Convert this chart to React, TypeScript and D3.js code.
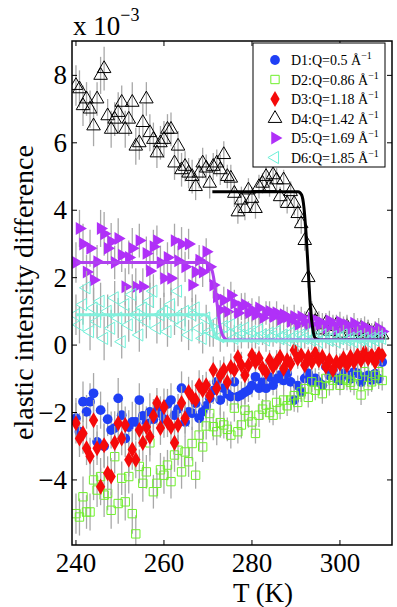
import React from 'react'
import * as d3 from 'd3'

// temperature points (K) shared by all six detectors
const TEMPS = [
  240, 240.8, 241.6, 242.4, 243.2, 244, 244.8, 245.6, 246.4, 247.2, 248, 248.8, 249.6, 250.4, 251.2, 252, 252.8,
  253.6, 254.4, 255.2, 256, 256.8, 257.6, 258.4, 259.2, 260, 260.8, 261.6, 262.4, 263.2, 264, 264.8, 265.6, 266.4,
  267.2, 268, 268.8, 269.6, 270.4, 271.2, 272, 272.8, 273.6, 274.4, 275.2, 276, 276.8, 277.6, 278.4, 279.2, 280,
  280.8, 281.6, 282.4, 283.2, 284, 284.8, 285.6, 286.4, 287.2, 288, 288.8, 289.6, 290.4, 291.2, 292, 292.8, 293.6,
  294.4, 295.2, 296, 296.8, 297.6, 298.4, 299.2, 300, 300.8, 301.6, 302.4, 303.2, 304, 304.8, 305.6, 306.4, 307.2,
  308, 308.8, 309.6,
]

// error bar half-length, x 1e-3
const ERR = [
  0.6, 0.55, 0.6, 0.5, 0.55, 0.6, 0.5, 0.55, 0.65, 0.5, 0.55, 0.5, 0.6, 0.5, 0.55, 0.5, 0.6, 0.55, 0.5, 0.55,
  0.5, 0.55, 0.5, 0.45, 0.5, 0.55, 0.45, 0.5, 0.5, 0.45, 0.5, 0.45, 0.45, 0.5, 0.4, 0.45, 0.45, 0.4, 0.45, 0.4,
  0.4, 0.45, 0.4, 0.35, 0.4, 0.4, 0.35, 0.4, 0.35, 0.35, 0.35, 0.3, 0.35, 0.3, 0.35, 0.3, 0.3, 0.35, 0.3, 0.3,
  0.3, 0.3, 0.35, 0.3, 0.3, 0.3, 0.3, 0.3, 0.3, 0.3, 0.3, 0.3, 0.3, 0.3, 0.3, 0.3, 0.3, 0.3, 0.3, 0.3,
  0.3, 0.3, 0.3, 0.3, 0.3, 0.3, 0.3, 0.3,
]

const D1 = [
  -2.17, -2.57, -1.68, -1.98, -1.68, -1.43, -2.87, -1.93, -3.0, -2.2, -2.52, -2.46, -1.58, -2.08, -2.77, -2.43,
  -2.28, -2.28, -1.63, -2.1, -2.32, -1.98, -2.2, -1.93, -2.02, -2.2, -1.75, -1.63, -2.08, -1.9, -1.28, -2.28,
  -1.98, -2.02, -1.73, -2.17, -1.98, -1.8, -1.58, -1.35, -1.09, -1.63, -1.28, -1.45, -1.53, -1.09, -1.53, -1.48,
  -1.4, -1.34, -1.2, -0.94, -1.28, -1.1, -1.28, -0.95, -1.19, -1.0, -0.89, -1.05, -0.84, -1.09, -1.63, -1.2,
  -1.39, -0.99, -0.84, -1.09, -0.99, -1.1, -1.19, -0.64, -0.9, -0.74, -0.99, -1.05, -0.85, -0.89, -1.0, -0.8,
  -0.84, -1.1, -0.94, -0.9, -1.04, -0.85, -1.0, -0.5,
]

const D2 = [
  -5.0, -5.1, -4.5, -4.95, -4.95, -4.0, -4.3, -3.9, -4.45, -4.4, -4.9, -3.31, -4.7, -3.95, -4.65, -3.9, -5.0,
  -5.6, -3.6, -4.1, -3.76, -2.9, -4.35, -4.1, -3.7, -3.86, -3.56, -4.05, -3.26, -3.12, -3.76, -3.17, -3.46, -2.92,
  -3.86, -2.67, -3.02, -2.4, -2.03, -2.42, -2.57, -2.3, -2.37, -2.5, -2.67, -1.87, -2.57, -2.37, -1.93, -2.1,
  -2.28, -2.62, -2.08, -1.9, -1.78, -2.0, -2.08, -1.7, -1.9, -1.63, -1.8, -1.63, -1.5, -1.7, -1.39, -1.29, -1.55,
  -1.09, -1.34, -1.2, -1.44, -0.99, -1.2, -1.04, -0.79, -1.19, -1.0, -1.04, -1.1, -1.19, -0.9, -1.48, -0.79, -1.2,
  -1.09, -0.9, -0.79, -1.05,
]

const D3 = [
  -2.32, -2.77, -2.62, -3.06, -3.3, -2.23, -3.06, -4.2, -2.97, -3.8, -3.9, -2.9, -2.32, -2.77, -2.37, -3.4, -3.1,
  -3.4, -2.52, -2.9, -2.43, -2.72, -2.1, -1.72, -2.46, -1.84, -2.28, -2.43, -2.9, -2.37, -1.72, -2.17, -1.39,
  -1.54, -1.63, -1.2, -1.34, -1.19, -1.5, -0.74, -1.28, -0.9, -0.74, -1.1, -0.65, -0.74, -0.36, -0.6, -0.89, -0.6,
  -0.3, -0.5, -0.39, -0.68, -0.8, -0.45, -0.64, -0.5, -0.35, -0.7, -0.45, -0.55, -0.15, -0.4, -0.3, -0.6, -0.35,
  -0.5, -0.24, -0.45, -0.35, -0.64, -0.45, -0.74, -0.5, -0.55, -0.39, -0.6, -0.35, -0.5, -0.3, -0.45, -0.2, -0.4,
  -0.3, -0.5, -0.25, -0.3,
]

const D4 = [
  7.7, 7.6, 7.1, 7.3, 7.0, 6.5, 7.3, 8.0, 8.2, 6.8, 6.4, 6.7, 6.9, 7.2, 6.4, 6.7, 7.2, 5.9, 6.0, 6.6, 7.3, 6.3,
  6.1, 5.7, 6.0, 6.1, 6.4, 6.4, 5.4, 5.9, 5.2, 5.3, 5.1, 5.0, 4.7, 5.1, 5.4, 5.25, 4.8, 5.3, 5.4, 5.2, 5.65, 5.0,
  4.95, 4.5, 3.95, 4.3, 4.05, 4.6, 4.35, 4.05, 4.7, 4.8, 5.0, 4.7, 5.05, 4.9, 4.4, 4.9, 4.2, 4.55, 4.2, 3.9, 3.6,
  3.1, 2.0, 1.0, 0.7, 0.6, 0.45, 0.65, 0.4, 0.55, 0.6, 0.35, 0.5, 0.55, 0.3, 0.45, 0.4, 0.5, 0.35, 0.45, 0.3, 0.4,
  0.35, 0.3,
]

const D5 = [
  2.45, 3.46, 3.0, 2.17, 2.87, 1.93, 2.47, 3.46, 3.3, 2.87, 3.07, 2.45, 3.16, 2.67, 1.73, 2.6, 2.87, 1.73, 3.1,
  1.73, 2.72, 2.2, 2.92, 3.1, 2.45, 1.98, 2.6, 1.98, 3.1, 2.5, 3.0, 2.32, 3.0, 1.78, 2.17, 2.52, 2.17, 2.77, 2.32,
  1.78, 1.43, 1.04, 1.33, 0.99, 1.48, 1.24, 0.95, 1.14, 1.2, 0.95, 1.04, 0.9, 1.1, 0.8, 0.95, 1.0, 0.84, 0.95,
  0.75, 0.9, 0.84, 0.7, 0.85, 0.6, 0.84, 0.7, 0.6, 0.8, 0.55, 0.7, 0.65, 0.5, 0.72, 0.6, 0.45, 0.69, 0.55, 0.6,
  0.4, 0.65, 0.5, 0.45, 0.55, 0.45, 0.35, 0.4, 0.5, 0.4,
]

const D6 = [
  0.9, 0.6, 1.2, 1.7, 0.4, 1.1, 0.7, 1.3, 0.2, 1.0, 0.5, 1.4, 0.8, 0.1, 1.2, 0.6, 1.5, 0.9, 0.3, 1.1, 0.7, 1.3,
  1.6, 0.5, 0.9, 1.0, 0.4, 1.2, 0.8, 1.6, 0.6, 1.0, 0.3, 0.9, 1.1, 0.5, 0.2, 0.8, 0.4, 0.35, 0.7, 0.25, 0.55, 0.3,
  0.6, 0.2, 0.45, 0.3, 0.5, 0.25, 0.4, 0.2, 0.45, 0.3, 0.15, 0.35, 0.25, 0.4, 0.2, 0.3, 0.15, 0.35, 0.25, 0.1, 0.3,
  0.2, 0.35, 0.15, 0.25, 0.1, 0.3, 0.2, 0.15, 0.25, 0.1, 0.2, 0.3, 0.15, 0.2, 0.1, 0.25, 0.15, 0.2, 0.1, 0.2, 0.15,
  0.25, 0.2,
]

// step fits [T, value]
const FIT_D4 = [
  [271, 4.55], [290.5, 4.55], [291.3, 4.45], [291.8, 4.1], [292.3, 3.3], [292.8, 2.2], [293.3, 1.1], [293.8, 0.5],
  [294.4, 0.2], [295.5, 0.15], [310, 0.15],
]
const FIT_D5 = [
  [240, 2.45], [269.5, 2.45], [270.5, 2.35], [271.3, 2.0], [272, 1.3], [272.7, 0.6], [273.5, 0.25], [274.5, 0.15],
  [310, 0.15],
]
const FIT_D6 = [
  [240, 0.9], [269, 0.9], [270, 0.85], [270.8, 0.6], [271.5, 0.35], [272.3, 0.2], [273.5, 0.13], [310, 0.12],
]

const X_TICKS = [240, 260, 280, 300]
const Y_TICKS = [-4, -2, 0, 2, 4, 6, 8]

const LEGEND = [
  { name: 'D1:Q=0.5 Å' },
  { name: 'D2:Q=0.86 Å' },
  { name: 'D3:Q=1.18 Å' },
  { name: 'D4:Q=1.42 Å' },
  { name: 'D5:Q=1.69 Å' },
  { name: 'D6:Q=1.85 Å' },
]

const FONT = '"Liberation Serif", "Times New Roman", serif'

const SERIES = [
  { values: D1, type: d3.symbolCircle, size: 75, rot: 0, fill: '#1f3ff5', stroke: 'none' },
  { values: D2, type: d3.symbolSquare, size: 70, rot: 0, fill: 'none', stroke: '#6ef02a' },
  { values: D3, type: d3.symbolDiamond, size: 75, rot: 0, fill: '#f50a0a', stroke: 'none' },
  { values: D4, type: d3.symbolTriangle, size: 80, rot: 0, fill: 'none', stroke: '#000' },
  { values: D5, type: d3.symbolTriangle, size: 72, rot: 90, fill: '#b030f8', stroke: 'none' },
  { values: D6, type: d3.symbolTriangle, size: 65, rot: -90, fill: 'none', stroke: '#6ff0d8' },
]

export default function App() {
  const width = 397
  const height = 607
  const left = 72
  const right = 392
  const top = 41
  const bottom = 545

  const x = d3.scaleLinear().domain([239.1, 311.83]).range([left, right])
  const y = d3.scaleLinear().domain([-5.93, 9.02]).range([bottom, top])

  const line = d3
    .line<number[]>()
    .x(d => x(d[0]))
    .y(d => y(d[1]))
    .curve(d3.curveMonotoneX)

  const fmt = (v: number) => (v < 0 ? '\u2212' + Math.abs(v) : String(v))

  return (
    <svg
      width={width}
      height={height}
      style={{ position: 'absolute', left: 0, top: 0, background: '#fff' }}
    >
      <rect x={0} y={0} width={width} height={height} fill="#fff" />
      <defs>
        <clipPath id="plot">
          <rect x={left} y={top} width={right - left} height={bottom - top} />
        </clipPath>
      </defs>

      <g clipPath="url(#plot)">
        {SERIES.map((s, si) => (
          <g key={si}>
            {s.values.map((v, i) => (
              <line
                key={i}
                x1={x(TEMPS[i])}
                x2={x(TEMPS[i])}
                y1={y(v - ERR[i])}
                y2={y(v + ERR[i])}
                stroke="#a8a8a8"
                strokeWidth={1.3}
              />
            ))}
            {s.values.map((v, i) => (
              <path
                key={'m' + i}
                d={d3.symbol().type(s.type).size(s.size)() || ''}
                transform={`translate(${x(TEMPS[i])},${y(v)}) rotate(${s.rot})`}
                fill={s.fill}
                stroke={s.stroke}
                strokeWidth={1}
              />
            ))}
          </g>
        ))}
        <path d={line(FIT_D4) || ''} fill="none" stroke="#000" strokeWidth={3} />
        <path d={line(FIT_D5) || ''} fill="none" stroke="#b040f0" strokeWidth={3} />
        <path d={line(FIT_D6) || ''} fill="none" stroke="#80f0dc" strokeWidth={3} />
      </g>

      {/* frame and inward ticks */}
      <rect x={left} y={top} width={right - left} height={bottom - top} fill="none" stroke="#000" strokeWidth={1.5} />
      {X_TICKS.map(t => (
        <g key={t}>
          <line x1={x(t)} x2={x(t)} y1={bottom} y2={bottom - 5} stroke="#000" />
          <line x1={x(t)} x2={x(t)} y1={top} y2={top + 5} stroke="#000" />
          <text x={x(t)} y={572} textAnchor="middle" fontFamily={FONT} fontSize={27}>
            {t}
          </text>
        </g>
      ))}
      {Y_TICKS.map(t => (
        <g key={t}>
          <line x1={left} x2={left + 5} y1={y(t)} y2={y(t)} stroke="#000" />
          <line x1={right} x2={right - 5} y1={y(t)} y2={y(t)} stroke="#000" />
          <text x={67} y={y(t) + 9} textAnchor="end" fontFamily={FONT} fontSize={27}>
            {fmt(t)}
          </text>
        </g>
      ))}

      <text x={73} y={35} fontFamily={FONT} fontSize={27}>
        x 10
        <tspan dy={-14} fontSize={18}>
          {'\u22123'}
        </tspan>
      </text>

      <text x={263} y={602} textAnchor="middle" fontFamily={FONT} fontSize={27}>
        T (K)
      </text>
      <text
        transform={`translate(33, ${(145 + 440) / 2}) rotate(-90)`}
        textAnchor="middle"
        fontFamily={FONT}
        fontSize={28}
      >
        elastic intensity difference
      </text>

      {/* legend */}
      <g>
        <rect x={253} y={43} width={132} height={124} fill="#fff" stroke="#000" strokeWidth={1} />
        {LEGEND.map((l, i) => {
          const s = SERIES[i]
          const ly = 60 + i * 19.5
          return (
            <g key={l.name}>
              <path
                d={d3.symbol().type(s.type).size(s.size)() || ''}
                transform={`translate(275,${ly}) rotate(${s.rot})`}
                fill={s.fill}
                stroke={s.stroke}
              />
              <text x={291} y={ly + 5} fontFamily={FONT} fontSize={14}>
                {l.name}
                <tspan dy={-6} fontSize={10}>
                  {'\u22121'}
                </tspan>
              </text>
            </g>
          )
        })}
      </g>
    </svg>
  )
}
